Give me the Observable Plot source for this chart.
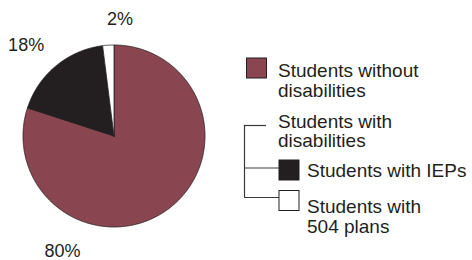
<!DOCTYPE html>
<html>
<head>
<meta charset="utf-8">
<script src="https://cdn.jsdelivr.net/npm/d3@7"></script>
<script src="https://cdn.jsdelivr.net/npm/@observablehq/plot@0.6"></script>
<style>
  html, body { margin: 0; padding: 0; background: #fff; }
  #chart { width: 472px; height: 260px; }
</style>
</head>
<body>
<div id="chart"></div>
<script>
// ---- data ----
const categories = ["Students without disabilities", "Students with IEPs", "Students with 504 plans"];
const values = [80, 18, 2];
const valueLabels = ["80%", "18%", "2%"];
const colors = ["#8a4650", "#231f20", "#ffffff"];

// legend texts
const legendTexts = ["Students without\ndisabilities", "Students with\ndisabilities", "Students with IEPs", "Students with\n504 plans"];

// ---- layout (pixel units) ----
const cx = 113.5, cy = 135.5, R = 91;
const labelAngle = [204, 316, 3];       // degrees clockwise from top
const labelRadius = [1.39, 1.39, 1.28]; // multiples of R
const legendTextX = [277.5, 277.5, 306.5, 306.5];
const legendTextTop = [62.5, 113.2, 162.2, 198.5];
const swatchCat = [0, 1, 2];
const swatchX = [246.5, 279, 279];
const swatchY = [58, 160, 190.5];
const swatchSize = 20;

const ink = "#231f20";
const font = "'Liberation Sans', Arial, Helvetica, sans-serif";

// ---- pie geometry from data ----
const arcs = d3.pie().sort(null).startAngle(0).endAngle(2 * Math.PI)(values);
const pts = [];
arcs.forEach((a, i) => {
  const poly = [[cx, cy]];
  const n = Math.max(2, Math.ceil((a.endAngle - a.startAngle) / (Math.PI / 360)));
  for (let k = 0; k <= n; k++) {
    const t = a.startAngle + (a.endAngle - a.startAngle) * k / n;
    poly.push([cx + R * Math.sin(t), cy - R * Math.cos(t)]);
  }
  poly.push([cx, cy]);
  poly.forEach(([x, y]) => pts.push({cat: categories[i], color: colors[i], x, y}));
});

const labelData = valueLabels.map((l, i) => {
  const t = labelAngle[i] * Math.PI / 180;
  return {label: l, x: cx + R * labelRadius[i] * Math.sin(t), y: cy - R * labelRadius[i] * Math.cos(t)};
});

const legendData = legendTexts.map((t, i) => ({text: t, x: legendTextX[i], y: legendTextTop[i]}));
const swatches = swatchCat.map((c, i) => ({
  color: colors[c], x1: swatchX[i], x2: swatchX[i] + swatchSize, y1: swatchY[i], y2: swatchY[i] + swatchSize
}));

// bracket connecting "Students with disabilities" to its sub-items
const bracketX = 244;
const bracketRows = [125, swatchY[1] + 7.5, swatchY[2] + 6.5];
const bracketEnds = [266, swatchX[1], swatchX[2]];
const bracketH = bracketRows.map((y, i) => ({x1: bracketX, x2: bracketEnds[i], y}));

const chart = Plot.plot({
  width: 472,
  height: 260,
  margin: 0,
  style: {background: "#fff", fontFamily: font},
  x: {domain: [0, 472], range: [0, 472], axis: null},
  y: {domain: [0, 260], range: [0, 260], axis: null},
  marks: [
    Plot.line(pts, {x: "x", y: "y", z: "cat", fill: "color", stroke: ink, strokeWidth: 0.8, curve: "linear-closed"}),
    Plot.text(labelData, {x: "x", y: "y", text: "label", fontSize: 18, fill: ink, textAnchor: "middle"}),
    Plot.rect(swatches, {x1: "x1", x2: "x2", y1: "y1", y2: "y2", fill: "color", stroke: ink, strokeWidth: 1}),
    Plot.ruleX([bracketX], {y1: bracketRows[0], y2: bracketRows[2], stroke: "#3a3a3a", strokeWidth: 1.2}),
    Plot.ruleY(bracketH, {x1: "x1", x2: "x2", y: "y", stroke: "#3a3a3a", strokeWidth: 1.2}),
    Plot.text(legendData, {x: "x", y: "y", text: "text", fontSize: 19, lineHeight: 1.04, lineAnchor: "top", textAnchor: "start", fill: ink})
  ]
});
document.getElementById("chart").appendChild(chart);
</script>
</body>
</html>
